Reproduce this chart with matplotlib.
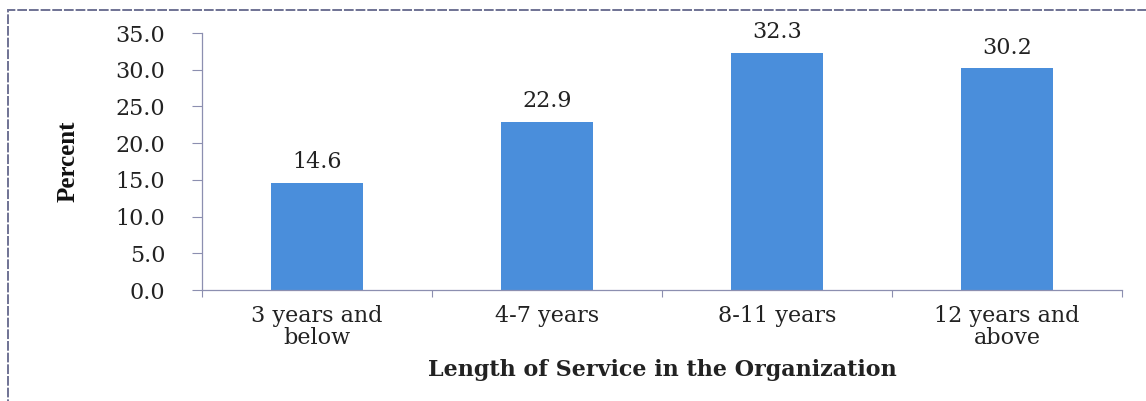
import matplotlib
matplotlib.use("Agg")
import matplotlib.pyplot as plt
from matplotlib.patches import Rectangle
import numpy as np

categories = ["3 years and\nbelow", "4-7 years", "8-11 years", "12 years and\nabove"]
values = [14.6, 22.9, 32.3, 30.2]
yticks = [0, 5, 10, 15, 20, 25, 30, 35]

bar_color = "#4A8EDB"
axis_color = "#8C8FB0"
serif = ["DejaVu Serif"]
fs = 16

fig = plt.figure(figsize=(11.46, 4.01), dpi=100)
ax = fig.add_axes([0.1763, 0.2768, 0.979 - 0.1763, 0.9177 - 0.2768])

x = np.arange(len(categories))
ax.bar(x, values, width=0.4, color=bar_color, edgecolor="none", zorder=2)
for xi, v in zip(x, values):
    ax.annotate(f"{v:.1f}", (xi, v), xytext=(0, 7), textcoords="offset points",
                ha="center", va="bottom", fontsize=fs, family=serif, color="#222222")

ax.set_xlim(-0.5, len(categories) - 0.5)
ax.set_ylim(0, 35)
ax.set_yticks(yticks)
ax.set_yticklabels([f"{t:.1f}" for t in yticks], family=serif, fontsize=fs, color="#222222")
ax.set_xticks(x)
ax.set_xticklabels(categories, family=serif, fontsize=fs, color="#222222", linespacing=1.0)
ax.tick_params(axis="x", length=0, pad=11)
ax.set_xticks(np.arange(len(categories) + 1) - 0.5, minor=True)
ax.tick_params(axis="x", which="minor", length=5, color=axis_color, width=0.8, direction="out")
ax.tick_params(axis="y", length=7.5, color=axis_color, width=0.8, direction="out", pad=19)

for side in ["top", "right"]:
    ax.spines[side].set_visible(False)
for side in ["left", "bottom"]:
    ax.spines[side].set_color(axis_color)
    ax.spines[side].set_linewidth(0.9)
    ax.spines[side].set_linestyle((0, (2, 1)))

ax.set_ylabel("Percent", family=["Liberation Serif"], fontweight="bold", fontsize=18,
              labelpad=26, color="#111111")
ax.set_xlabel("Length of Service in the Organization", family=serif, fontweight="bold",
              fontsize=16, labelpad=7, color="#222222")

# outer frame (cropped on right and bottom)
fig.patches.append(Rectangle((8 / 1146, -0.1), 1.2, 1 - 10 / 401 + 0.1, transform=fig.transFigure,
                             fill=False, edgecolor="#6F7294", linewidth=1.4, linestyle=(0, (5, 1))))

fig.savefig("out.png", dpi=100)
